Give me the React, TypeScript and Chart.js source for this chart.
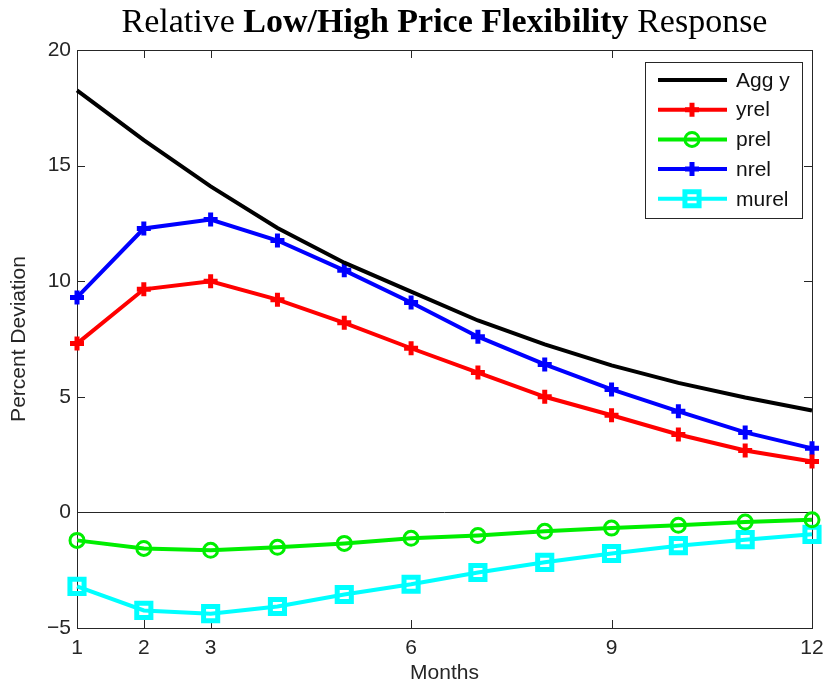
import React, { useEffect, useRef } from "react";
import { Chart, registerables } from "chart.js";

Chart.register(...registerables);

const months = [1, 2, 3, 4, 5, 6, 7, 8, 9, 10, 11, 12];
const xTickValues = [1, 2, 3, 6, 9, 12];
const yTickValues = [-5, 0, 5, 10, 15, 20];
const aggY = [18.25, 16.1, 14.1, 12.3, 10.8, 9.55, 8.3, 7.27, 6.36, 5.6, 4.97, 4.41];
const yrel = [7.3, 9.65, 10.0, 9.2, 8.2, 7.1, 6.05, 5.0, 4.2, 3.37, 2.68, 2.2];
const prel = [-1.21, -1.56, -1.64, -1.51, -1.34, -1.12, -1.0, -0.82, -0.68, -0.56, -0.42, -0.32];
const nrel = [9.3, 12.28, 12.67, 11.76, 10.47, 9.08, 7.6, 6.4, 5.32, 4.37, 3.46, 2.77];
const murel = [-3.2, -4.24, -4.38, -4.07, -3.55, -3.11, -2.6, -2.16, -1.78, -1.44, -1.18, -0.95];

const AXIS_COLOR = "#262626";
const FONT = "'Liberation Sans', Arial, sans-serif";

const toPoints = (vals: number[]) => vals.map((v, i) => ({ x: months[i], y: v }));

const framePlugin = {
  id: "frame",
  beforeDatasetsDraw(chart: any) {
    const { ctx, chartArea: a, scales } = chart;
    const xs = scales.x;
    const ys = scales.y;
    ctx.save();
    ctx.strokeStyle = AXIS_COLOR;
    ctx.lineWidth = 1;
    const y0 = Math.round(ys.getPixelForValue(0)) + 0.5;
    ctx.beginPath();
    ctx.moveTo(a.left, y0);
    ctx.lineTo(a.right, y0);
    ctx.stroke();
    ctx.strokeRect(Math.round(a.left) + 0.5, Math.round(a.top) + 0.5, Math.round(a.right - a.left), Math.round(a.bottom - a.top));
    const tl = 8;
    ctx.beginPath();
    xTickValues.forEach((v) => {
      const px = Math.round(xs.getPixelForValue(v)) + 0.5;
      ctx.moveTo(px, a.bottom);
      ctx.lineTo(px, a.bottom - tl);
      ctx.moveTo(px, a.top);
      ctx.lineTo(px, a.top + tl);
    });
    yTickValues.forEach((v) => {
      const py = Math.round(ys.getPixelForValue(v)) + 0.5;
      ctx.moveTo(a.left, py);
      ctx.lineTo(a.left + tl, py);
      ctx.moveTo(a.right, py);
      ctx.lineTo(a.right - tl, py);
    });
    ctx.stroke();
    ctx.restore();
  },
  afterDraw(chart: any) {
    const { ctx } = chart;
    const datasets = chart.data.datasets;
    const bx = 645, by = 62, bw = 157, bh = 156;
    ctx.save();
    ctx.fillStyle = "#ffffff";
    ctx.fillRect(bx, by, bw, bh);
    ctx.strokeStyle = AXIS_COLOR;
    ctx.lineWidth = 1;
    ctx.strokeRect(bx + 0.5, by + 0.5, bw, bh);
    const rowH = 29.7;
    datasets.forEach((ds: any, i: number) => {
      const cy = by + 18 + i * rowH;
      ctx.strokeStyle = ds.borderColor;
      ctx.lineWidth = ds.borderWidth;
      ctx.beginPath();
      ctx.moveTo(658, cy);
      ctx.lineTo(727, cy);
      ctx.stroke();
      if (ds.pointRadius > 0) {
        ctx.lineWidth = ds.pointBorderWidth;
        ctx.strokeStyle = ds.borderColor;
        ctx.beginPath();
        const r = ds.pointRadius;
        const mx = 692;
        if (ds.pointStyle === "cross") {
          ctx.moveTo(mx - r, cy);
          ctx.lineTo(mx + r, cy);
          ctx.moveTo(mx, cy - r);
          ctx.lineTo(mx, cy + r);
        } else if (ds.pointStyle === "circle") {
          ctx.arc(mx, cy, r, 0, Math.PI * 2);
        } else if (ds.pointStyle === "rect") {
          const s = Math.SQRT1_2 * r;
          ctx.rect(mx - s, cy - s, 2 * s, 2 * s);
        }
        ctx.stroke();
      }
      ctx.fillStyle = "#111";
      ctx.font = `21px ${FONT}`;
      ctx.textAlign = "left";
      ctx.textBaseline = "middle";
      ctx.fillText(ds.label, 736, cy + 1);
    });
    ctx.restore();
  },
};

export default function App() {
  const ref = useRef<HTMLCanvasElement | null>(null);
  useEffect(() => {
    document.body.style.margin = "0";
    if (!ref.current) return;
    const chart = new Chart(ref.current, {
      type: "line",
      data: {
        datasets: [
          { label: "Agg y", data: toPoints(aggY), borderColor: "#000000", borderWidth: 4, pointRadius: 0, pointStyle: false as any, clip: false as any },
          { label: "yrel", data: toPoints(yrel), borderColor: "#ff0000", borderWidth: 4, pointStyle: "cross", pointRadius: 7, pointBorderWidth: 5, pointBackgroundColor: "rgba(0,0,0,0)", pointBorderColor: "#ff0000", clip: false as any },
          { label: "prel", data: toPoints(prel), borderColor: "#00ee00", borderWidth: 4, pointStyle: "circle", pointRadius: 7, pointBorderWidth: 3, pointBackgroundColor: "rgba(0,0,0,0)", pointBorderColor: "#00ee00", clip: false as any },
          { label: "nrel", data: toPoints(nrel), borderColor: "#0000ff", borderWidth: 4, pointStyle: "cross", pointRadius: 7, pointBorderWidth: 5, pointBackgroundColor: "rgba(0,0,0,0)", pointBorderColor: "#0000ff", clip: false as any },
          { label: "murel", data: toPoints(murel), borderColor: "#00ffff", borderWidth: 4, pointStyle: "rect", pointRadius: 10, pointBorderWidth: 5, pointBackgroundColor: "rgba(0,0,0,0)", pointBorderColor: "#00ffff", clip: false as any },
        ],
      },
      options: {
        animation: false,
        responsive: false,
        maintainAspectRatio: false,
        events: [],
        layout: { padding: { left: 0, top: 50, right: 15, bottom: 0 } },
        plugins: { legend: { display: false }, tooltip: { enabled: false }, title: { display: false } },
        scales: {
          x: {
            type: "linear",
            min: 1,
            max: 12,
            afterBuildTicks: (axis: any) => {
              axis.ticks = xTickValues.map((v) => ({ value: v }));
            },
            afterFit: (axis: any) => {
              axis.height = 59;
              axis.paddingLeft = 0;
              axis.paddingRight = 0;
            },
            grid: { display: false, drawTicks: false },
            border: { display: false },
            ticks: { color: AXIS_COLOR, font: { family: FONT, size: 21 }, padding: 8, maxRotation: 0, autoSkip: false },
            title: { display: true, text: "Months", color: AXIS_COLOR, font: { family: FONT, size: 21 }, padding: { top: 0, bottom: 1 } },
          },
          y: {
            type: "linear",
            min: -5,
            max: 20,
            afterBuildTicks: (axis: any) => {
              axis.ticks = yTickValues.map((v) => ({ value: v }));
            },
            afterFit: (axis: any) => {
              axis.width = 77;
              axis.paddingTop = 0;
              axis.paddingBottom = 0;
            },
            grid: { display: false, drawTicks: false },
            border: { display: false },
            ticks: {
              color: AXIS_COLOR,
              font: { family: FONT, size: 21 },
              padding: 6,
              autoSkip: false,
              callback: (v: any) => (Number(v) < 0 ? "\u2212" + Math.abs(Number(v)) : String(v)),
            },
            title: { display: true, text: "Percent Deviation", color: AXIS_COLOR, font: { family: FONT, size: 21 }, padding: { top: 7, bottom: 0 } },
          },
        },
      },
      plugins: [framePlugin],
    } as any);
    return () => chart.destroy();
  }, []);

  return (
    <div style={{ position: "relative", width: 827, height: 687, background: "#fff" }}>
      <canvas ref={ref} width={827} height={687} style={{ display: "block", width: 827, height: 687 }} />
      <div
        style={{
          position: "absolute",
          left: 77,
          top: 4,
          width: 735,
          textAlign: "center",
          fontFamily: "'Liberation Serif', 'Times New Roman', serif",
          fontSize: 34,
          lineHeight: "34px",
          color: "#000",
          whiteSpace: "nowrap",
        }}
      >
        Relative <b>Low/High Price Flexibility</b> Response
      </div>
    </div>
  );
}
